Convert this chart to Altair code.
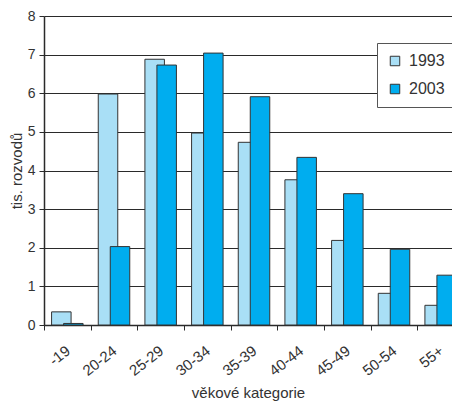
import altair as alt
import pandas as pd

categories = ["-19", "20-24", "25-29", "30-34", "35-39", "40-44", "45-49", "50-54", "55+"]
v1993 = [0.34, 5.98, 6.88, 4.97, 4.73, 3.76, 2.19, 0.82, 0.51]
v2003 = [0.04, 2.03, 6.73, 7.04, 5.91, 4.34, 3.40, 1.96, 1.29]
series = ["1993", "2003"]
colors = ["#a9dff6", "#00adef"]

rows = []
for c, a, b in zip(categories, v1993, v2003):
    rows.append({"kat": c, "rok": "1993", "val": a})
    rows.append({"kat": c, "rok": "2003", "val": b})
df = pd.DataFrame(rows)

font = "Liberation Sans"
dark = "#2a2a2a"

x_enc = alt.X(
    "kat:N",
    sort=categories,
    scale=alt.Scale(range=[0, 420], paddingInner=0, paddingOuter=0),
    axis=alt.Axis(
        title="věkové kategorie",
        labelAngle=-38,
        labelAlign="right",
        labelBaseline="top",
        tickBand="extent",
        grid=False,
        domainColor=dark,
        domainWidth=1.5,
        tickColor=dark,
        tickSize=5,
        labelFont=font,
        labelFontSize=15,
        labelColor="#333",
        labelPadding=13,
        labelOffset=-4,
        titleFont=font,
        titleFontSize=15,
        titleFontWeight="normal",
        titleColor="#333",
        titlePadding=7,
        titleX=204,
    ),
)
y_enc = alt.Y(
    "val:Q",
    scale=alt.Scale(domain=[0, 8], nice=False),
    axis=alt.Axis(
        title="tis. rozvodů",
        values=[0, 1, 2, 3, 4, 5, 6, 7, 8],
        grid=True,
        gridColor=dark,
        gridWidth=1.2,
        gridOpacity=1,
        domainColor=dark,
        domainWidth=1.5,
        tickColor=dark,
        tickSize=5,
        labelFont=font,
        labelFontSize=14,
        labelColor="#333",
        labelPadding=4,
        titleFont=font,
        titleFontSize=15,
        titleFontWeight="normal",
        titleColor="#333",
        titlePadding=3,
    ),
)
color_enc = alt.Color(
    "rok:N",
    scale=alt.Scale(domain=series, range=colors),
    legend=alt.Legend(
        title=None,
        orient="none",
        legendX=333,
        legendY=27,
        fillColor="white",
        strokeColor="#555",
        padding=10,
        symbolType="square",
        symbolSize=90,
        symbolStrokeColor="#333",
        symbolStrokeWidth=1,
        labelFont=font,
        labelFontSize=16,
        labelColor="#333",
        labelOffset=6,
        rowPadding=12,
    ),
)

base = alt.Chart(df).encode(x=x_enc, y=y_enc, color=color_enc)
b1 = base.transform_filter("datum.rok == '1993'").mark_bar(
    width=19.5, xOffset=-6, stroke="#333", strokeWidth=1
)
b2 = base.transform_filter("datum.rok == '2003'").mark_bar(
    width=19.5, xOffset=6, stroke="#333", strokeWidth=1
)

chart = (
    alt.layer(b1, b2)
    .properties(
        width=408,
        height=309,
        autosize=alt.AutoSizeParams(type="none"),
        padding={"left": 36, "top": 8, "right": 0, "bottom": 79},
        background="white",
    )
    .configure_view(stroke=None)
)

chart.save("out.html", embed_options={"renderer": "svg", "actions": False})
